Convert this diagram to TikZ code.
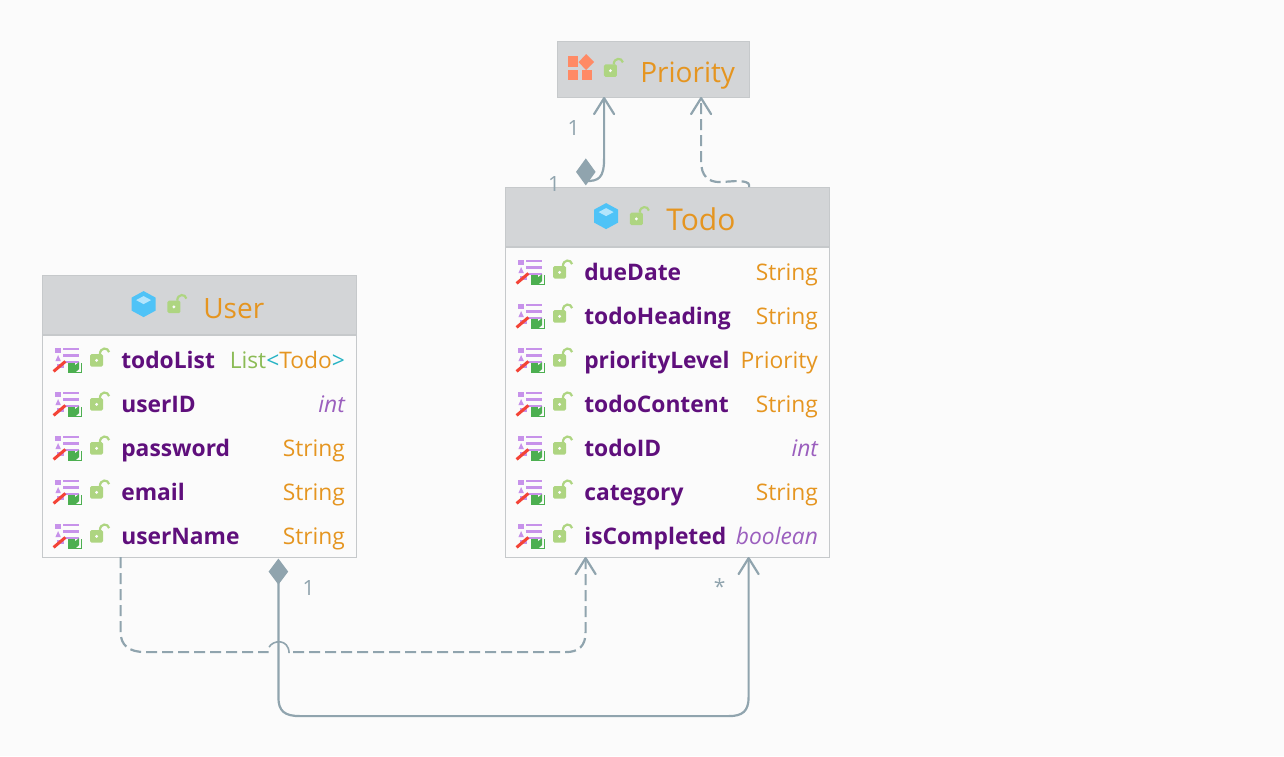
\documentclass[tikz,border=0pt]{standalone}
\usepackage{fontspec}
\setmainfont{Open Sans}
\usetikzlibrary{calc}
\definecolor{bgc}{HTML}{FBFBFB}
\definecolor{hdrc}{HTML}{D3D5D7}
\definecolor{bord}{HTML}{C6C9CB}
\definecolor{conn}{HTML}{90A4AE}
\definecolor{namec}{HTML}{5F0F7C}
\definecolor{typec}{HTML}{E59520}
\definecolor{primc}{HTML}{9B5FBE}
\definecolor{genc}{HTML}{8BBB55}
\definecolor{brkc}{HTML}{26B3C4}
\definecolor{lockc}{HTML}{AED581}
\definecolor{fieldc}{HTML}{C792EA}
\definecolor{penc}{HTML}{F44336}
\definecolor{bookc}{HTML}{4CAF50}
\definecolor{hexc}{HTML}{4FC3F7}
\definecolor{hexl}{HTML}{B3E5FC}
\definecolor{enumc}{HTML}{FF8A65}
\tikzset{
  x=1pt,y=-1pt,
  classbox/.style={draw=bord,line width=1pt,fill=bgc,inner sep=0pt,outer sep=0pt,anchor=north west},
  hdrbox/.style={draw=bord,line width=1pt,fill=hdrc,inner sep=0pt,outer sep=0pt,anchor=north west},
  titletext/.style={font=\fontsize{28}{32}\selectfont,text=typec,anchor=base west,inner sep=0pt},
  nametext/.style={font=\fontsize{22.8}{26}\bfseries\selectfont,text=namec,anchor=base west,inner sep=0pt},
  typetext/.style={font=\fontsize{22.8}{26}\selectfont,text=typec,anchor=base east,inner sep=0pt},
  primtext/.style={font=\fontsize{22.8}{26}\itshape\selectfont,text=primc,anchor=base east,inner sep=0pt},
  multtext/.style={font=\fontsize{21}{24}\selectfont,text=conn,anchor=center,inner sep=0pt},
  solidconn/.style={draw=conn,line width=2.2pt},
  dashconn/.style={draw=conn,line width=2.2pt,dash pattern=on 11pt off 5pt},
  tipconn/.style={draw=conn,line width=2.2pt,line cap=round,line join=round},
  pics/lockicon/.style={code={
    \fill[lockc,rounded corners=1.5pt] (-6.5,-6) rectangle (6.5,6.5);
    \draw[lockc,line width=2.2pt] (3.3,-6) .. controls (3.5,-13) and (11.5,-13) .. (12.5,-8);
    \fill[bgc] (0,0.3) circle (1.6);
  }},
  pics/fieldicon/.style={code={
    \fill[fieldc] (1.3,-12.5) rectangle (6.8,-7);
    \fill[fieldc] (1.3,1) -- (4,-5) -- (6.8,1) -- cycle;
    \fill[fieldc] (3,4) rectangle (10,8);
    \fill[fieldc] (9,-12.5) rectangle (25,-10.3);
    \fill[fieldc] (9,-5.7) rectangle (25,-3.5);
    \fill[fieldc] (9,1) rectangle (25,3.2);
    \draw[penc,line width=3pt] (-0.5,11.3) -- (11.3,1.3);
    \fill[bookc] (13.7,3) rectangle (21,12.5);
    \fill[bookc] (21,12.5) -- (21,5) -- (25,2) -- (25,9) -- cycle;
    \draw[bookc,line width=0.9pt] (27,3) -- (27,12.5) -- (21,12.5);
  }},
  pics/classicon/.style={code={
    \fill[hexc] (0,-13) -- (12,-6.5) -- (12,6.5) -- (0,13) -- (-12,6.5) -- (-12,-6.5) -- cycle;
    \fill[hexl] (0,-8) -- (7.5,-4) -- (0,0) -- (-7.5,-4) -- cycle;
  }},
  pics/enumicon/.style={code={
    \fill[enumc] (568,56) rectangle (578,66.5);
    \fill[enumc] (568,69.5) rectangle (578,80);
    \fill[enumc] (582,69.5) rectangle (592,80);
    \fill[enumc] (586,54) -- (594,62) -- (586,70) -- (578.5,62) -- cycle;
  }},
}
\newcommand{\fieldrow}[8]{%
  \pic at (#3,#4) {fieldicon};
  \pic at ($(#3,#4)+(42.5,0)$) {lockicon};
  \node[nametext] (#1-#2-n) at ($(#3,#4)+(67,8)$) {#5};
  \node[#7] (#1-#2-t) at (#6,#4+8) {#8};
}
\begin{document}
\begin{tikzpicture}
\useasboundingbox (0,0) rectangle (1284,756);
\fill[bgc] (0,0) rectangle (1284,756);
\begin{scope}[shift={(0.1,0.1)}]

% Priority
\node[hdrbox,minimum width=192pt,minimum height=56pt] (priority) at (557,41) {};
\pic {enumicon};
\pic at (610.3,70.3) {lockicon};
\node[titletext] (priorityT) at (640,82) {Priority};

% Todo
\node[classbox,minimum width=324pt,minimum height=370pt] (todo) at (505,187) {};
\node[hdrbox,minimum width=324pt,minimum height=60pt] (todoH) at (505,187) {};
\draw[bord,line width=2pt] (todoH.south west) -- (todoH.south east);
\pic at (606,216) {classicon};
\pic at (636.3,218.5) {lockicon};
\node[titletext,font=\fontsize{30}{32}\selectfont] (todoT) at (666,230) {Todo};
\fieldrow{todo}{a}{517}{272}{dueDate}{818}{typetext}{String}
\fieldrow{todo}{b}{517}{316}{todoHeading}{818}{typetext}{String}
\fieldrow{todo}{c}{517}{360}{priorityLevel}{818}{typetext}{Priority}
\fieldrow{todo}{d}{517}{404}{todoContent}{818}{typetext}{String}
\fieldrow{todo}{e}{517}{448}{todoID}{818}{primtext}{int}
\fieldrow{todo}{f}{517}{492}{category}{818}{typetext}{String}
\fieldrow{todo}{g}{517}{536}{isCompleted}{818}{primtext}{boolean}

% User
\node[classbox,minimum width=314pt,minimum height=282pt] (user) at (42,275) {};
\node[hdrbox,minimum width=314pt,minimum height=60pt] (userH) at (42,275) {};
\draw[bord,line width=2pt] (userH.south west) -- (userH.south east);
\pic at (143.5,304) {classicon};
\pic at (173.8,306.5) {lockicon};
\node[titletext] (userT) at (203,318) {User};
\fieldrow{user}{a}{54}{360}{todoList}{345}{typetext}{{\color{genc}List}{\color{brkc}<}Todo{\color{brkc}>}}
\fieldrow{user}{b}{54}{404}{userID}{345}{primtext}{int}
\fieldrow{user}{c}{54}{448}{password}{345}{typetext}{String}
\fieldrow{user}{d}{54}{492}{email}{345}{typetext}{String}
\fieldrow{user}{e}{54}{536}{userName}{345}{typetext}{String}

% connector end points
\coordinate (pA) at ($(priority.south west)+(47,1)$);
\coordinate (pB) at ($(priority.south west)+(144,1)$);
\coordinate (tA) at ($(todo.north west)+(80.7,0)$);
\coordinate (tB) at ($(todo.north west)+(244,0)$);
\coordinate (tC) at ($(todo.south west)+(80.5,1)$);
\coordinate (tD) at ($(todo.south west)+(243.5,1)$);
\coordinate (uA) at ($(user.south west)+(78.5,0)$);
\coordinate (uB) at ($(user.south west)+(236.3,0)$);

% Todo -> Priority composition
\draw[solidconn] ($(tA)+(0,-6)$) .. controls ($(tA)+(13,-6)$) and ($(pA)+(0,80)$) .. ($(pA)+(0,60)$) -- (pA);
\draw[tipconn] ($(pA)+(-10,16)$) -- (pA) -- ($(pA)+(10,16)$);
\fill[conn] (tA) ++(0,-28.7) -- ++(9.8,13.5) -- ++(-9.8,13.5) -- ++(-9.8,-13.5) -- cycle;
\node[multtext] (m1) at (573.5,128) {1};
\node[multtext] (m2) at (554,184) {1};

% Todo -> Priority dependency
\draw[dashconn] (tB) -- ($(tB)+(0,-2)$) .. controls ($(tB)+(0,-5)$) and ($(tB)+(-5,-6)$) .. ($(tB)+(-14,-6)$)
  -- ($(pB)+(19,84)$) .. controls ($(pB)+(7,84)$) and ($(pB)+(0,78)$) .. ($(pB)+(0,63)$) -- (pB);
\draw[tipconn] ($(pB)+(-10,16)$) -- (pB) -- ($(pB)+(10,16)$);

% User -> Todo dependency, with hop
\draw[dashconn] (uA) -- ($(uA)+(0,75)$) .. controls ($(uA)+(0,88)$) and ($(uA)+(8,95)$) .. ($(uA)+(25,95)$) -- ($(uA)+(148,95)$);
\draw[conn,line width=1.6pt] ($(uA)+(148.5,90)$) .. controls ($(uA)+(152,83)$) and ($(uA)+(168,81)$) .. ($(uA)+(168.5,96)$);
\draw[dashconn] ($(uA)+(172.5,95)$) -- ($(tC)+(-20,94)$) .. controls ($(tC)+(-7,94)$) and ($(tC)+(0,88)$) .. ($(tC)+(0,74)$) -- (tC);
\draw[tipconn] ($(tC)+(-10,16)$) -- (tC) -- ($(tC)+(10,16)$);

% User -> Todo composition
\draw[solidconn] ($(uB)+(0,20)$) -- ($(uB)+(0,140)$) .. controls ($(uB)+(0,154)$) and ($(uB)+(6,159)$) .. ($(uB)+(22,159)$)
  -- ($(tD)+(-20,158)$) .. controls ($(tD)+(-6,158)$) and ($(tD)+(0,153)$) .. ($(tD)+(0,139)$) -- (tD);
\draw[tipconn] ($(tD)+(-10,16)$) -- (tD) -- ($(tD)+(10,16)$);
\fill[conn] (uB) ++(0,1.5) -- ++(9.8,13) -- ++(-9.8,13) -- ++(-9.8,-13) -- cycle;
\node[multtext] (m3) at (308.5,588) {1};
\node[multtext] (m4) at (719.5,586) {*};
\end{scope}
\end{tikzpicture}
\end{document}
